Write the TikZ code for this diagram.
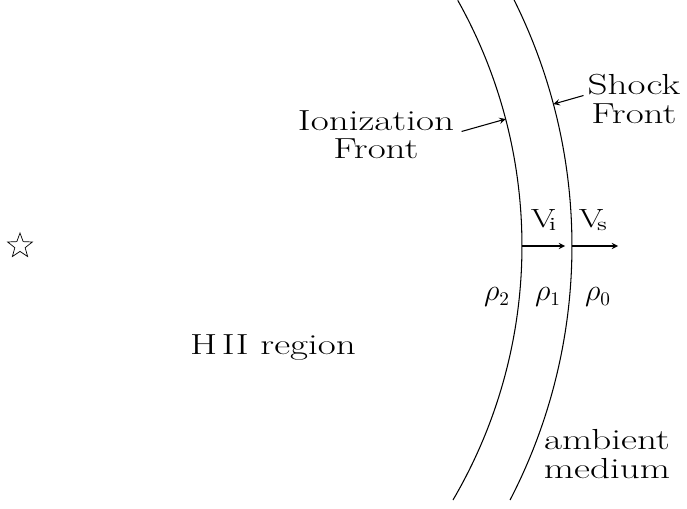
\documentclass[tikz,border=0pt]{standalone}
\usepackage{fontspec}
\setmainfont{Latin Modern Roman}[FakeStretch=1.35]
\usetikzlibrary{shapes.geometric}

\begin{document}
\begin{tikzpicture}[>=stealth, x=0.02cm, y=0.02cm, line width=0.6pt,
	lbl/.style={font=\fontsize{16.5}{16}\selectfont, align=center, inner sep=0pt},
	sym/.style={font=\fontsize{16}{18}\selectfont, inner sep=0pt}]
	
	\useasboundingbox (0,0) rectangle (687,508);
	
	% Ngoi sao o tam
	\coordinate (ctr) at (20,262);
	\node[star, star points=5, star point ratio=2.4, draw, line width=0.4pt,
	minimum size=0.52cm, inner sep=0pt] (star) at (ctr) {};
	
	% Hai mat song: mat ion hoa va mat song xung kich
	\draw (ctr) ++(29.3:502) arc[start angle=29.3, end angle=-30.4, radius=502];
	\draw (ctr) ++(26.5:552) arc[start angle=26.5, end angle=-27.4, radius=552];
	
	% Cac diem tren hai mat song
	\path (ctr) ++(0:502) coordinate (ifront)
	      (ctr) ++(0:552) coordinate (sfront)
	      (ctr) ++(14.65:502) coordinate (itip)
	      (ctr) ++(14.9:552) coordinate (stip);
	\coordinate (vihead) at (565,262);
	\coordinate (vshead) at (618,262);
	
	% Nhan chu
	\node[lbl] (ionlbl) at (376,373) {Ionization\\Front};
	\node[lbl] (shocklbl) at (634,409) {Shock\\Front};
	\node[lbl] (hii) at (273,160) {H\,II region};
	\node[lbl, font=\fontsize{16.5}{16.5}\selectfont] (ambient) at (607,54) {ambient\\medium};
	
	% Van toc
	\draw[->] (ifront) -- (vihead);
	\draw[->] (sfront) -- (vshead);
	\node[sym, font=\fontsize{15}{17}\selectfont] (vi) at (543,288) {$\mathrm{V_i}$};
	\node[sym, font=\fontsize{15}{17}\selectfont] (vs) at (592,288) {$\mathrm{V_s}$};
	
	% Mat do
	\node[sym] (rho2) at (497,211) {$\rho_2$};
	\node[sym] (rho1) at (548,211) {$\rho_1$};
	\node[sym] (rho0) at (598,211) {$\rho_0$};
	
	% Mui ten chi vao cac mat song
	\draw[->] ([xshift=4, yshift=2]ionlbl.east) -- (itip);
	\draw[->] ([xshift=-2, yshift=2]shocklbl.west) -- (stip);
	
\end{tikzpicture}
\end{document}
